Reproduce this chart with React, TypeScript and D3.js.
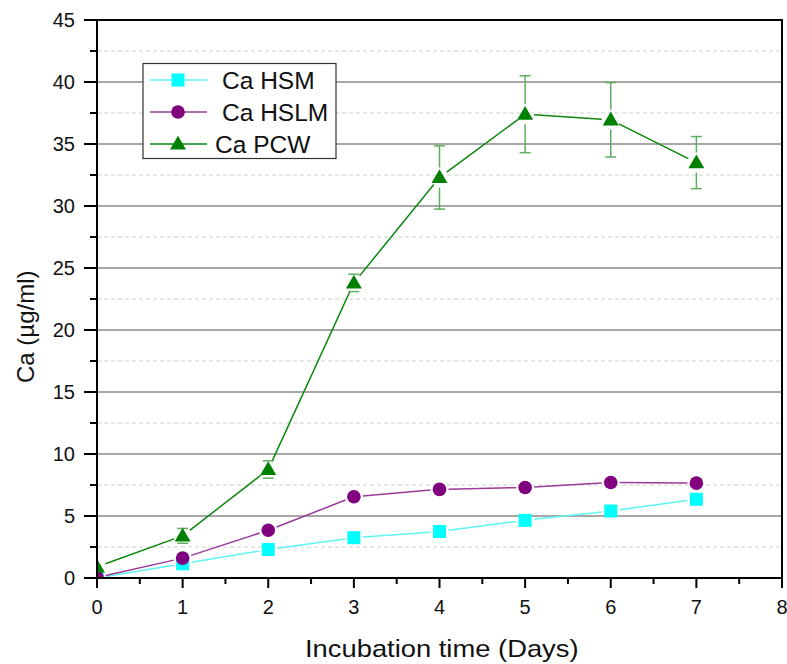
import React from "react";
import * as d3 from "d3";

// Incubation days and calcium release (µg/ml) per sample type
const days = [0, 1, 2, 3, 4, 5, 6, 7];
const caHSM = [0.0, 1.15, 2.3, 3.25, 3.75, 4.65, 5.4, 6.35];
const caHSLM = [0.05, 1.6, 3.85, 6.55, 7.15, 7.3, 7.7, 7.65];
const caPCW = [0.9, 3.4, 8.75, 23.8, 32.3, 37.4, 36.95, 33.5];
const caPCWErr = [0, 0.6, 0.7, 0.7, 2.55, 3.1, 3.0, 2.1];

const xTickValues = [0, 1, 2, 3, 4, 5, 6, 7, 8];
const yTickValues = [0, 5, 10, 15, 20, 25, 30, 35, 40, 45];
const yMinorValues = [2.5, 7.5, 12.5, 17.5, 22.5, 27.5, 32.5, 37.5, 42.5];
const xMinorValues = [0.5, 1.5, 2.5, 3.5, 4.5, 5.5, 6.5, 7.5];

const seriesNames = ["Ca HSM", "Ca HSLM", "Ca PCW"];

const W = 787;
const H = 664;
const FONT = "'Liberation Sans', Arial, Helvetica, sans-serif";

const x = d3.scaleLinear().domain([0, 8]).range([97, 782]);
const y = d3.scaleLinear().domain([0, 45]).range([578, 20]);

type Shape = "square" | "circle" | "triangle";

const triPath = d3.symbol().type(d3.symbolTriangle).size(110)() as string;

function Marker({ cx, cy, shape, fill }: { cx: number; cy: number; shape: Shape; fill: string }) {
  if (shape === "square") {
    return <rect x={cx - 6.5} y={cy - 6.5} width={13} height={13} fill={fill} />;
  }
  if (shape === "circle") {
    return <circle cx={cx} cy={cy} r={6.8} fill={fill} />;
  }
  return <path d={triPath} transform={`translate(${cx},${cy + 1})`} fill={fill} />;
}

// Line segments between markers, trimmed so each marker sits in a small gap
function GappedLine({ values, stroke, gap }: { values: number[]; stroke: string; gap: number }) {
  const segs: JSX.Element[] = [];
  for (let i = 0; i < values.length - 1; i++) {
    const x0 = x(days[i]);
    const y0 = y(values[i]);
    const x1 = x(days[i + 1]);
    const y1 = y(values[i + 1]);
    const dx = x1 - x0;
    const dy = y1 - y0;
    const len = Math.hypot(dx, dy);
    if (len <= gap * 2) continue;
    const ux = dx / len;
    const uy = dy / len;
    segs.push(
      <line
        key={i}
        x1={x0 + ux * gap}
        y1={y0 + uy * gap}
        x2={x1 - ux * gap}
        y2={y1 - uy * gap}
        stroke={stroke}
        strokeWidth={1.5}
      />
    );
  }
  return <g>{segs}</g>;
}

function ErrorBars({ values, errs, stroke }: { values: number[]; errs: number[]; stroke: string }) {
  const out: JSX.Element[] = [];
  values.forEach((v, i) => {
    const e = errs[i];
    if (!e) return;
    const cx = x(days[i]);
    const cy = y(v);
    const top = y(v + e);
    const bot = y(v - e);
    const gap = 10;
    if (cy - gap > top) {
      out.push(<line key={`u${i}`} x1={cx} x2={cx} y1={top} y2={cy - gap} stroke={stroke} strokeWidth={1.5} />);
    }
    if (bot > cy + gap) {
      out.push(<line key={`d${i}`} x1={cx} x2={cx} y1={cy + gap} y2={bot} stroke={stroke} strokeWidth={1.5} />);
    }
    out.push(<line key={`tc${i}`} x1={cx - 5.5} x2={cx + 5.5} y1={top} y2={top} stroke={stroke} strokeWidth={1.5} />);
    out.push(<line key={`bc${i}`} x1={cx - 5.5} x2={cx + 5.5} y1={bot} y2={bot} stroke={stroke} strokeWidth={1.5} />);
  });
  return <g>{out}</g>;
}

const series = [
  { name: seriesNames[0], values: caHSM, line: "#5ff5f5", fill: "#00ffff", shape: "square" as Shape },
  { name: seriesNames[1], values: caHSLM, line: "#9a3a9a", fill: "#800080", shape: "circle" as Shape },
  { name: seriesNames[2], values: caPCW, line: "#0a870a", fill: "#008000", shape: "triangle" as Shape },
];

export default function App() {
  const [x0, x1] = x.range();
  const [y0, y1] = y.range();

  return (
    <svg
      width={W}
      height={H}
      viewBox={`0 0 ${W} ${H}`}
      style={{ position: "absolute", left: 0, top: 0, display: "block", background: "#fff" }}
      fontFamily={FONT}
    >
      <defs>
        <clipPath id="plotClip">
          <rect x={x0} y={y1} width={x1 - x0} height={y0 - y1} />
        </clipPath>
      </defs>

      {/* horizontal grid */}
      {yMinorValues.map((v) => (
        <line key={`gm${v}`} x1={x0} x2={x1} y1={y(v)} y2={y(v)} stroke="#cfcfcf" strokeWidth={1} strokeDasharray="4,3" />
      ))}
      {yTickValues
        .filter((v) => v > 0 && v < 45)
        .map((v) => (
          <line key={`g${v}`} x1={x0} x2={x1} y1={y(v)} y2={y(v)} stroke="#8a8a8a" strokeWidth={1.5} />
        ))}

      {/* data */}
      <g clipPath="url(#plotClip)">
        {series.map((s) => (
          <GappedLine key={s.name} values={s.values} stroke={s.line} gap={9} />
        ))}
        <ErrorBars values={caPCW} errs={caPCWErr} stroke="#5fae5f" />
        {series.map((s) => (
          <g key={`m${s.name}`}>
            {s.values.map((v, i) => (
              <Marker key={i} cx={x(days[i])} cy={y(v)} shape={s.shape} fill={s.fill} />
            ))}
          </g>
        ))}
      </g>

      {/* frame */}
      <rect x={x0} y={y1} width={x1 - x0} height={y0 - y1} fill="none" stroke="#000" strokeWidth={2} />

      {/* y axis ticks and labels */}
      {yTickValues.map((v) => (
        <g key={`yt${v}`}>
          <line x1={x0 - 13} x2={x0} y1={y(v)} y2={y(v)} stroke="#000" strokeWidth={2} />
          <text x={75} y={y(v)} dy="0.35em" textAnchor="end" fontSize={20} fill="#111">
            {v}
          </text>
        </g>
      ))}
      {yMinorValues.map((v) => (
        <line key={`ym${v}`} x1={x0 - 7} x2={x0} y1={y(v)} y2={y(v)} stroke="#000" strokeWidth={2} />
      ))}

      {/* x axis ticks and labels */}
      {xTickValues.map((v) => (
        <g key={`xt${v}`}>
          <line x1={x(v)} x2={x(v)} y1={y0} y2={y0 + 10} stroke="#000" strokeWidth={2} />
          <text x={x(v)} y={614} textAnchor="middle" fontSize={20} fill="#111">
            {v}
          </text>
        </g>
      ))}
      {xMinorValues.map((v) => (
        <line key={`xm${v}`} x1={x(v)} x2={x(v)} y1={y0} y2={y0 + 6} stroke="#000" strokeWidth={2} />
      ))}

      {/* axis titles */}
      <text transform="translate(305,657) scale(1.14,1)" fontSize={24} fill="#111">
        Incubation time (Days)
      </text>
      <text transform="translate(34,383) rotate(-90)" fontSize={24} fill="#111">
        Ca (µg/ml)
      </text>

      {/* legend */}
      <g>
        <rect x={143} y={63.5} width={193} height={95} fill="#fff" stroke="#333" strokeWidth={1.2} />
        {series.map((s, i) => {
          const ly = 80 + i * 32;
          const tx = i === 2 ? 215 : 222;
          return (
            <g key={`lg${s.name}`}>
              <line x1={150} x2={207} y1={ly} y2={ly} stroke={s.line} strokeWidth={1.5} />
              <Marker cx={178} cy={ly} shape={s.shape} fill={s.fill} />
              <text x={tx} y={ly + 8.5} fontSize={24.5} fill="#111">
                {s.name}
              </text>
            </g>
          );
        })}
      </g>
    </svg>
  );
}
